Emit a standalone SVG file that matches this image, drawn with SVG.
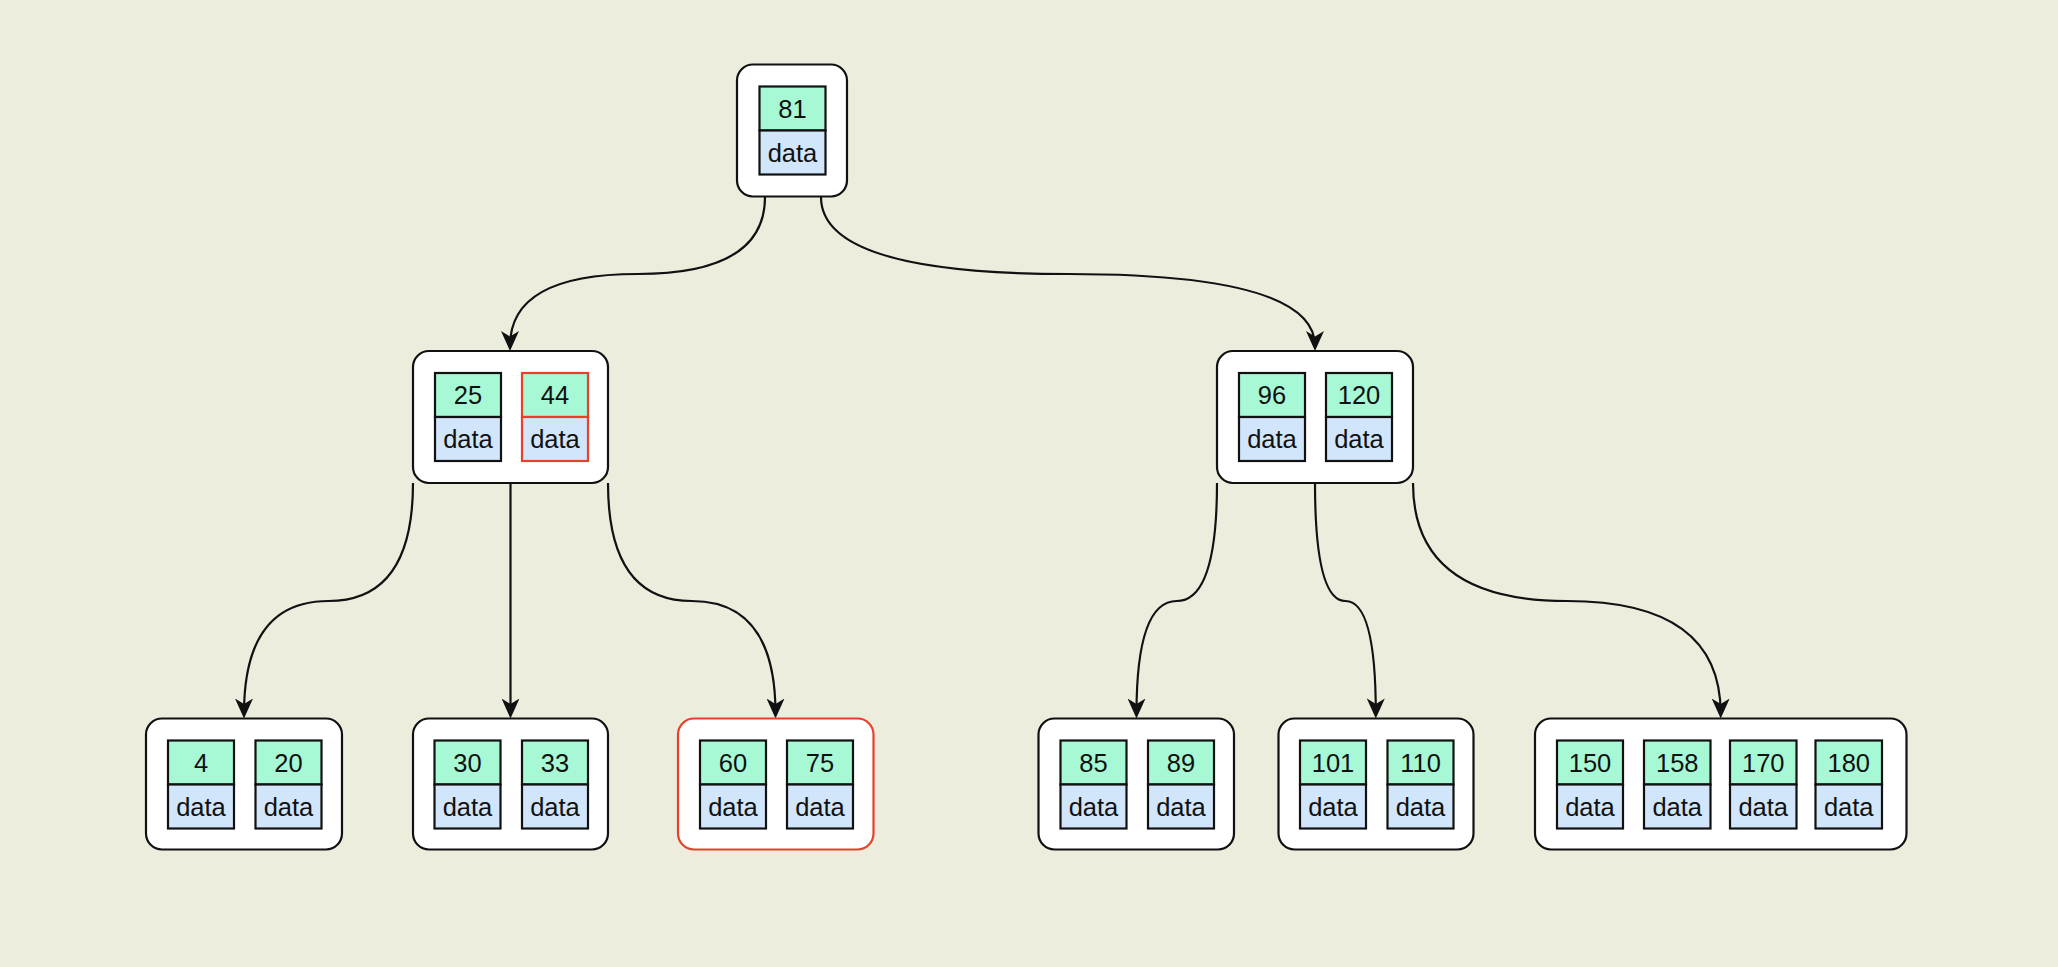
<svg xmlns="http://www.w3.org/2000/svg" width="2058" height="967" viewBox="0 0 2058 967">
<style>
.box{fill:#ffffff;stroke:#111111;stroke-width:2.2}
.box.red{stroke:#E8402A}
.key{fill:#A7F9D5;stroke:#111111;stroke-width:2.2}
.dat{fill:#D1E5FB;stroke:#111111;stroke-width:2.2}
.key.red,.dat.red{stroke:#E8402A}
text{font-family:"Liberation Sans",Arial,sans-serif;font-size:25.5px;fill:#111111;text-anchor:middle}
.edge{fill:none;stroke:#111111;stroke-width:2.2;marker-end:url(#arr)}
</style>
<defs>
<marker id="arr" markerUnits="userSpaceOnUse" markerWidth="20" markerHeight="18" viewBox="0 0 20 18" refX="15" refY="9" orient="auto">
<path d="M0,0 L20,9 L0,18 L5.5,9 Z" fill="#111111"/>
</marker>
</defs>
<rect x="0" y="0" width="2058" height="967" fill="#EDEDDE"/>

<g id="connectors">
<path class="edge" d="M765,197 Q765,274 637.5,274 Q510,274 510,346"/>
<path class="edge" d="M821,197 Q821,274 1068,274 Q1315,274 1315,346"/>
<path class="edge" d="M413,483 Q413,601 328.5,601 Q244,601 244,713.5"/>
<path class="edge" d="M510.5,483 L510.5,713.5"/>
<path class="edge" d="M608,483 Q608,601 691.75,601 Q775.5,601 775.5,713.5"/>
<path class="edge" d="M1217,483 Q1217,601 1176.8,601 Q1136.5,601 1136.5,713.5"/>
<path class="edge" d="M1315,483 Q1315,601 1345.4,601 Q1375.8,601 1375.8,713.5"/>
<path class="edge" d="M1413,483 Q1413,601 1566.9,601 Q1720.7,601 1720.7,713.5"/>
</g>

<g id="root">
<rect class="box" x="737" y="64.5" width="110" height="132" rx="16"/>
<rect class="key" x="759.5" y="86.5" width="66" height="44"/>
<rect class="dat" x="759.5" y="130.5" width="66" height="44"/>
<text x="792.5" y="117.6">81</text>
<text x="792.5" y="161.6">data</text>
</g>

<g id="n25_44">
<rect class="box" x="413" y="351" width="195" height="132" rx="16"/>
<rect class="key" x="435" y="373" width="66" height="44"/>
<rect class="dat" x="435" y="417" width="66" height="44"/>
<text x="468" y="404.1">25</text>
<text x="468" y="448.1">data</text>
<rect class="key red" x="522" y="373" width="66" height="44"/>
<rect class="dat red" x="522" y="417" width="66" height="44"/>
<text x="555" y="404.1">44</text>
<text x="555" y="448.1">data</text>
</g>

<g id="n96_120">
<rect class="box" x="1217" y="351" width="196" height="132" rx="16"/>
<rect class="key" x="1239" y="373" width="66" height="44"/>
<rect class="dat" x="1239" y="417" width="66" height="44"/>
<text x="1272" y="404.1">96</text>
<text x="1272" y="448.1">data</text>
<rect class="key" x="1326" y="373" width="66" height="44"/>
<rect class="dat" x="1326" y="417" width="66" height="44"/>
<text x="1359" y="404.1">120</text>
<text x="1359" y="448.1">data</text>
</g>

<g id="n4_20">
<rect class="box" x="146" y="718.5" width="196" height="131" rx="16"/>
<rect class="key" x="168" y="740.5" width="66" height="44"/>
<rect class="dat" x="168" y="784.5" width="66" height="44"/>
<text x="201" y="771.6">4</text>
<text x="201" y="815.6">data</text>
<rect class="key" x="255.5" y="740.5" width="66" height="44"/>
<rect class="dat" x="255.5" y="784.5" width="66" height="44"/>
<text x="288.5" y="771.6">20</text>
<text x="288.5" y="815.6">data</text>
</g>

<g id="n30_33">
<rect class="box" x="413" y="718.5" width="195" height="131" rx="16"/>
<rect class="key" x="434.5" y="740.5" width="66" height="44"/>
<rect class="dat" x="434.5" y="784.5" width="66" height="44"/>
<text x="467.5" y="771.6">30</text>
<text x="467.5" y="815.6">data</text>
<rect class="key" x="522" y="740.5" width="66" height="44"/>
<rect class="dat" x="522" y="784.5" width="66" height="44"/>
<text x="555" y="771.6">33</text>
<text x="555" y="815.6">data</text>
</g>

<g id="n60_75">
<rect class="box red" x="678" y="718.5" width="195.5" height="131" rx="16"/>
<rect class="key" x="700" y="740.5" width="66" height="44"/>
<rect class="dat" x="700" y="784.5" width="66" height="44"/>
<text x="733" y="771.6">60</text>
<text x="733" y="815.6">data</text>
<rect class="key" x="787" y="740.5" width="66" height="44"/>
<rect class="dat" x="787" y="784.5" width="66" height="44"/>
<text x="820" y="771.6">75</text>
<text x="820" y="815.6">data</text>
</g>

<g id="n85_89">
<rect class="box" x="1038.5" y="718.5" width="195.5" height="131" rx="16"/>
<rect class="key" x="1060.5" y="740.5" width="66" height="44"/>
<rect class="dat" x="1060.5" y="784.5" width="66" height="44"/>
<text x="1093.5" y="771.6">85</text>
<text x="1093.5" y="815.6">data</text>
<rect class="key" x="1148" y="740.5" width="66" height="44"/>
<rect class="dat" x="1148" y="784.5" width="66" height="44"/>
<text x="1181" y="771.6">89</text>
<text x="1181" y="815.6">data</text>
</g>

<g id="n101_110">
<rect class="box" x="1278.5" y="718.5" width="195" height="131" rx="16"/>
<rect class="key" x="1300" y="740.5" width="66" height="44"/>
<rect class="dat" x="1300" y="784.5" width="66" height="44"/>
<text x="1333" y="771.6">101</text>
<text x="1333" y="815.6">data</text>
<rect class="key" x="1387.5" y="740.5" width="66" height="44"/>
<rect class="dat" x="1387.5" y="784.5" width="66" height="44"/>
<text x="1420.5" y="771.6">110</text>
<text x="1420.5" y="815.6">data</text>
</g>

<g id="n150_180">
<rect class="box" x="1535" y="718.5" width="371.5" height="131" rx="16"/>
<rect class="key" x="1557" y="740.5" width="66" height="44"/>
<rect class="dat" x="1557" y="784.5" width="66" height="44"/>
<text x="1590" y="771.6">150</text>
<text x="1590" y="815.6">data</text>
<rect class="key" x="1644" y="740.5" width="66.5" height="44"/>
<rect class="dat" x="1644" y="784.5" width="66.5" height="44"/>
<text x="1677.25" y="771.6">158</text>
<text x="1677.25" y="815.6">data</text>
<rect class="key" x="1730" y="740.5" width="66.5" height="44"/>
<rect class="dat" x="1730" y="784.5" width="66.5" height="44"/>
<text x="1763.25" y="771.6">170</text>
<text x="1763.25" y="815.6">data</text>
<rect class="key" x="1815.5" y="740.5" width="66.5" height="44"/>
<rect class="dat" x="1815.5" y="784.5" width="66.5" height="44"/>
<text x="1848.75" y="771.6">180</text>
<text x="1848.75" y="815.6">data</text>
</g>
</svg>
